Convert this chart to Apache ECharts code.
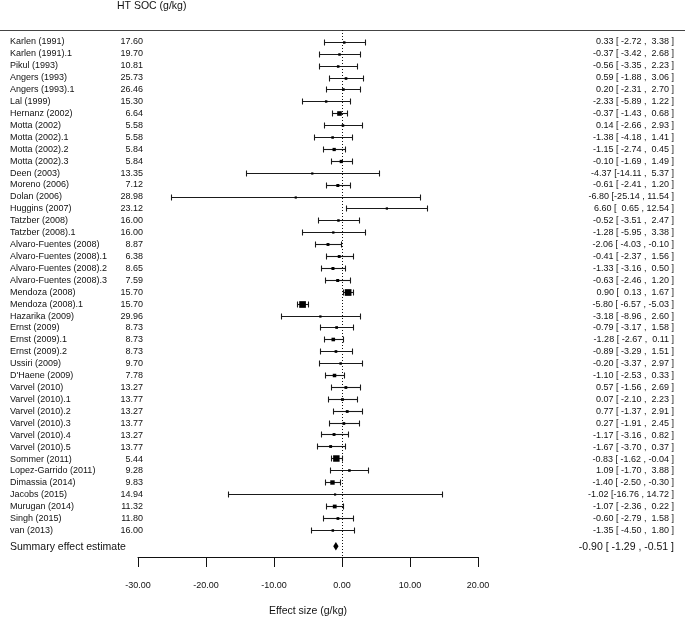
<!DOCTYPE html>
<html><head><meta charset="utf-8">
<script src="https://cdn.jsdelivr.net/npm/echarts@6/dist/echarts.min.js"></script>
<style>html,body{margin:0;padding:0;background:#fff}#c{width:685px;height:622px}</style>
</head><body><div id="c"></div>
<script>
// ---------- data ----------
const studies = ["Karlen (1991)","Karlen (1991).1","Pikul (1993)","Angers (1993)","Angers (1993).1","Lal (1999)","Hernanz (2002)","Motta (2002)","Motta (2002).1","Motta (2002).2","Motta (2002).3","Deen (2003)","Moreno (2006)","Dolan (2006)","Huggins (2007)","Tatzber (2008)","Tatzber (2008).1","Alvaro-Fuentes (2008)","Alvaro-Fuentes (2008).1","Alvaro-Fuentes (2008).2","Alvaro-Fuentes (2008).3","Mendoza (2008)","Mendoza (2008).1","Hazarika (2009)","Ernst (2009)","Ernst (2009).1","Ernst (2009).2","Ussiri (2009)","D'Haene (2009)","Varvel (2010)","Varvel (2010).1","Varvel (2010).2","Varvel (2010).3","Varvel (2010).4","Varvel (2010).5","Sommer (2011)","Lopez-Garrido (2011)","Dimassia (2014)","Jacobs (2015)","Murugan (2014)","Singh (2015)","van (2013)"];
const htSoc = [17.60,19.70,10.81,25.73,26.46,15.30,6.64,5.58,5.58,5.84,5.84,13.35,7.12,28.98,23.12,16.00,16.00,8.87,6.38,8.65,7.59,15.70,15.70,29.96,8.73,8.73,8.73,9.70,7.78,13.27,13.77,13.27,13.77,13.27,13.77,5.44,9.28,9.83,14.94,11.32,11.80,16.00];
const effect  = [0.33,-0.37,-0.56,0.59,0.20,-2.33,-0.37,0.14,-1.38,-1.15,-0.10,-4.37,-0.61,-6.80,6.60,-0.52,-1.28,-2.06,-0.41,-1.33,-0.63,0.90,-5.80,-3.18,-0.79,-1.28,-0.89,-0.20,-1.10,0.57,0.07,0.77,0.27,-1.17,-1.67,-0.83,1.09,-1.40,-1.02,-1.07,-0.60,-1.35];
const ciLower = [-2.72,-3.42,-3.35,-1.88,-2.31,-5.89,-1.43,-2.66,-4.18,-2.74,-1.69,-14.11,-2.41,-25.14,0.65,-3.51,-5.95,-4.03,-2.37,-3.16,-2.46,0.13,-6.57,-8.96,-3.17,-2.67,-3.29,-3.37,-2.53,-1.56,-2.10,-1.37,-1.91,-3.16,-3.70,-1.62,-1.70,-2.50,-16.76,-2.36,-2.79,-4.50];
const ciUpper = [3.38,2.68,2.23,3.06,2.70,1.22,0.68,2.93,1.41,0.45,1.49,5.37,1.20,11.54,12.54,2.47,3.38,-0.10,1.56,0.50,1.20,1.67,-5.03,2.60,1.58,0.11,1.51,2.97,0.33,2.69,2.23,2.91,2.45,0.82,0.37,-0.04,3.88,-0.30,14.72,0.22,1.58,1.80];
const summaryLabel = "Summary effect estimate";
const summaryEffect = -0.90, summaryLower = -1.29, summaryUpper = -0.51;
const headerText = "HT SOC (g/kg)";
const axisTitle = "Effect size (g/kg)";
const xMin = -30, xMax = 20, xStep = 10;

// ---------- layout / style ----------
const FONT = "'Liberation Sans', Arial, Helvetica, sans-serif";
const TXT = '#111';
const summaryRow = studies.length + 0.4;
const colName = 10, colValue = 143, colCI = 674;

function pad(s, n){ while (s.length < n) s = ' ' + s; return s; }
function ciText(e, lo, hi){
  return e.toFixed(2) + ' [' + pad(lo.toFixed(2), 6) + ' , ' + pad(hi.toFixed(2), 5) + ' ]';
}
function boxSize(width){ return 2.2 + 4.5 * Math.pow(1.54 / width, 2); }

const textRows = [];
studies.forEach((s, i) => {
  textRows.push({x: colName, y: i, t: s, a: 'left', f: 9});
  textRows.push({x: colValue, y: i, t: htSoc[i].toFixed(2), a: 'right', f: 9});
  textRows.push({x: colCI, y: i, t: ciText(effect[i], ciLower[i], ciUpper[i]), a: 'right', f: 9});
});
textRows.push({x: colName, y: summaryRow, t: summaryLabel, a: 'left', f: 10.5});
textRows.push({x: colCI, y: summaryRow, t: ciText(summaryEffect, summaryLower, summaryUpper), a: 'right', f: 10.5});

const chart = echarts.init(document.getElementById('c'), null, {renderer: 'canvas'});
const yCommon = {type: 'value', inverse: true, min: -1, max: 43.3, show: false};

chart.setOption({
  animation: false,
  backgroundColor: '#fff',
  title: {text: headerText, left: 117, top: 1, padding: 0, textStyle: {fontSize: 10.5, fontWeight: 'normal', color: TXT, fontFamily: FONT}},
  grid: [
    {left: 138, right: 207, top: 30, bottom: 64},
    {left: 0, right: 0, top: 30, bottom: 64}
  ],
  xAxis: [
    {gridIndex: 0, type: 'value', min: xMin, max: xMax, interval: xStep, position: 'bottom',
     axisLine: {show: true, onZero: false, lineStyle: {color: TXT, width: 1}},
     axisTick: {show: true, length: 10, lineStyle: {color: TXT, width: 1}},
     axisLabel: {margin: 24, fontSize: 9, color: TXT, fontFamily: FONT, formatter: v => v.toFixed(2)},
     splitLine: {show: false},
     name: axisTitle, nameLocation: 'middle', nameGap: 49,
     nameTextStyle: {fontSize: 10.5, color: TXT, fontFamily: FONT}},
    {gridIndex: 1, type: 'value', min: 0, max: 685, position: 'top',
     axisLine: {show: true, onZero: false, lineStyle: {color: '#444', width: 1.2}},
     axisTick: {show: false}, axisLabel: {show: false}, splitLine: {show: false}}
  ],
  yAxis: [
    Object.assign({gridIndex: 0}, yCommon),
    Object.assign({gridIndex: 1}, yCommon)
  ],
  series: [
    {
      type: 'line', xAxisIndex: 0, yAxisIndex: 0, data: [], silent: true,
      markLine: {silent: true, symbol: ['none', 'none'], label: {show: false},
        lineStyle: {type: [1, 2], color: '#111', width: 1},
        data: [{xAxis: 0}]}
    },
    {
      type: 'custom', xAxisIndex: 0, yAxisIndex: 0, silent: true,
      data: studies.map((s, i) => [i, effect[i], ciLower[i], ciUpper[i]]),
      encode: {y: 0, x: [1, 2, 3]},
      renderItem: function (params, api) {
        const r = api.value(0), e = api.value(1), lo = api.value(2), hi = api.value(3);
        const pL = api.coord([lo, r]), pH = api.coord([hi, r]), pE = api.coord([e, r]);
        const y = Math.round(pE[1]) + 0.5;
        const xl = Math.round(pL[0]) + 0.5, xh = Math.round(pH[0]) + 0.5;
        const s = boxSize(hi - lo);
        const st = {stroke: '#1a1a1a', lineWidth: 1.1};
        return {type: 'group', children: [
          {type: 'line', shape: {x1: xl, y1: y, x2: xh, y2: y}, style: st},
          {type: 'line', shape: {x1: xl, y1: y - 3, x2: xl, y2: y + 3}, style: st},
          {type: 'line', shape: {x1: xh, y1: y - 3, x2: xh, y2: y + 3}, style: st},
          {type: 'rect', shape: {x: pE[0] - s / 2, y: y - s / 2, width: s, height: s}, style: {fill: '#000'}}
        ]};
      }
    },
    {
      type: 'custom', xAxisIndex: 0, yAxisIndex: 0, silent: true,
      data: [[summaryRow, summaryEffect, summaryLower, summaryUpper]],
      encode: {y: 0, x: [1, 2, 3]},
      renderItem: function (params, api) {
        const r = api.value(0);
        const pE = api.coord([api.value(1), r]), pL = api.coord([api.value(2), r]), pH = api.coord([api.value(3), r]);
        const h = 4.2;
        return {type: 'polygon', shape: {points: [[pL[0], pE[1]], [pE[0], pE[1] - h], [pH[0], pE[1]], [pE[0], pE[1] + h]]},
          style: {fill: '#000'}};
      }
    },
    {
      type: 'custom', xAxisIndex: 1, yAxisIndex: 1, silent: true, clip: false,
      data: textRows.map(d => [d.x, d.y]),
      encode: {x: 0, y: 1},
      renderItem: function (params, api) {
        const d = textRows[params.dataIndex];
        const p = api.coord([api.value(0), api.value(1)]);
        return {type: 'text', x: p[0], y: p[1],
          style: {text: d.t, textAlign: d.a, textVerticalAlign: 'middle', fill: TXT,
            font: d.f + 'px ' + FONT}};
      }
    }
  ]
});
</script></body></html>
